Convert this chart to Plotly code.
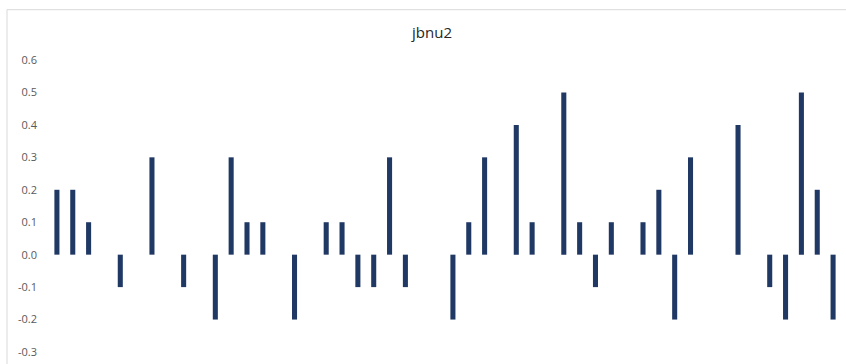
import plotly.graph_objects as go

categories = [str(i + 1) for i in range(50)]
values = [0.2, 0.2, 0.1, 0, -0.1, 0, 0.3, 0, -0.1, 0,
          -0.2, 0.3, 0.1, 0.1, 0, -0.2, 0, 0.1, 0.1, -0.1,
          -0.1, 0.3, -0.1, 0, 0, -0.2, 0.1, 0.3, 0, 0.4,
          0.1, 0, 0.5, 0.1, -0.1, 0.1, 0, 0.1, 0.2, -0.2,
          0.3, 0, 0, 0.4, 0, -0.1, -0.2, 0.5, 0.2, -0.2]
tick_vals = [-0.3, -0.2, -0.1, 0.0, 0.1, 0.2, 0.3, 0.4, 0.5, 0.6]
tick_text = [f"{v:.1f}" for v in tick_vals]
title_text = "jbnu2"

W, H = 846, 364
ml, mr, mt, mb = 49, 5, 60, 8
pw, ph = W - ml - mr, H - mt - mb

fig = go.Figure(go.Bar(x=categories, y=values, marker_color="#203864",
                       marker_line_width=0))

fig.update_layout(
    width=W, height=H,
    margin=dict(l=ml, r=mr, t=mt, b=mb, pad=0),
    paper_bgcolor="white", plot_bgcolor="white",
    bargap=0.68,
    showlegend=False,
    title=dict(text=title_text, x=432 / W, xref="container", xanchor="center",
               y=1 - 33 / H, yref="container", yanchor="middle",
               font=dict(family="Open Sans", size=15, color="#262626")),
    xaxis=dict(showticklabels=False, showgrid=False, zeroline=False,
               showline=False, ticks=""),
    yaxis=dict(range=[-0.3, 0.6], tickvals=tick_vals, ticktext=tick_text,
               showgrid=False, zeroline=False, showline=False, ticks="",
               ticklabelstandoff=11,
               tickfont=dict(family="Open Sans", size=11, color="#595959")),
)

# chart border (left and top edges visible)
x_left = (7 - ml) / pw
y_top = 1 + (mt - 9) / ph
fig.add_shape(type="line", xref="paper", yref="paper",
              x0=x_left, x1=x_left, y0=-1, y1=y_top,
              line=dict(color="#d9d9d9", width=1))
fig.add_shape(type="line", xref="paper", yref="paper",
              x0=x_left, x1=1.5, y0=y_top, y1=y_top,
              line=dict(color="#d9d9d9", width=1))

fig.write_html("out.html", config={"displayModeBar": False})

with open("out.html", "r", encoding="utf-8") as f:
    html = f.read()
html = html.replace("<body>", '<body style="margin:0;overflow:hidden">', 1)
with open("out.html", "w", encoding="utf-8") as f:
    f.write(html)
